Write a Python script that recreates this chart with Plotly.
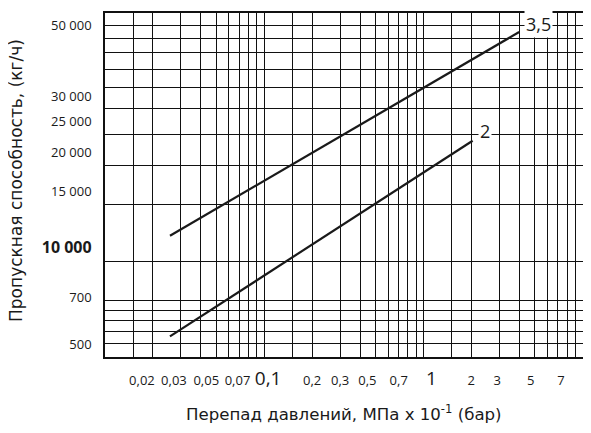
import math
import plotly.graph_objects as go

# ---- data ----
dp_35 = [0.0256, 4.0]          # pressure drop, MPa x 10^-1 (bar)
flow_35 = [12000, 52300]       # capacity, kg/h
dp_2 = [0.0256, 2.04]
flow_2 = [5800, 23850]
line_names = ["3,5", "2"]

x_tick_vals = [0.02, 0.03, 0.05, 0.07, 0.1, 0.2, 0.3, 0.5, 0.7, 1, 2, 3, 5, 7]
x_tick_text = ["0,02", "0,03", "0,05", "0,07", "0,1", "0,2", "0,3", "0,5",
               "0,7", "1", "2", "3", "5", "7"]
x_grid_mult = [1, 1.5, 2, 3, 4, 5, 6, 7, 8, 9]
x_grid_decades = [0.01, 0.1, 1]

y_tick_vals = [5000, 7000, 10000, 15000, 20000, 25000, 30000, 50000]
y_tick_text = ["500", "700", "10 000", "15 000", "20 000", "25 000", "30 000", "50 000"]
y_grid_extra = [5500, 6000, 6500, 7500, 35000, 40000, 45000, 55000]

# ---- styling / layout ----
FONT = "Open Sans"
TITLE_FONT = "DejaVu Sans"
BIG_X = {"0,1", "1"}
W, H = 591, 433
MARGIN = dict(l=97, r=16, t=5, b=84)
X_RANGE = [-2, 1.003]
# pixel nudges of the x tick labels as printed in the reference (negative = left)
x_label_nudge_px = [-11, -7, -10, -2, 4, 0, 0, -8, 0, 8, 0, -2, -4, 3]

decade_px = (W - MARGIN["l"] - MARGIN["r"]) / (X_RANGE[1] - X_RANGE[0])
x_label_pos = [v * 10 ** (n / decade_px) for v, n in zip(x_tick_vals, x_label_nudge_px)]
x_text = [f"<span style='font-size:19px'>{t}</span>" if t in BIG_X else t
          for t in x_tick_text]
y_text = [f"<span style='font-size:16px'><b>{t}</b></span>" if t == "10 000" else t
          for t in y_tick_text]
x_grid = [d * m for d in x_grid_decades for m in x_grid_mult] + [10]

fig = go.Figure()
# both x axes share the same log scale and range
for xs, ys, xa in [(dp_35, flow_35, "x"), (dp_2, flow_2, "x2")]:
    fig.add_trace(go.Scatter(x=xs, y=ys, mode="lines", xaxis=xa, yaxis="y",
                             line=dict(color="#1a1a1a", width=2.2),
                             showlegend=False, hoverinfo="skip"))

for name, xs, ys, ysh in [(line_names[0], dp_35, flow_35, 8), (line_names[1], dp_2, flow_2, 10)]:
    fig.add_annotation(x=math.log10(xs[-1]), y=math.log10(ys[-1]), xref="x", yref="y",
                       text=name, showarrow=False, xanchor="left", yanchor="middle",
                       xshift=5, yshift=ysh, bgcolor="white", borderpad=1,
                       font=dict(family=FONT, size=18, color="#1a1a1a"))

GRID = "#111111"
fig.update_layout(
    xaxis=dict(type="log", range=X_RANGE, automargin=False,
               tickmode="array", tickvals=x_tick_vals, showticklabels=False,
               ticks="",
               showgrid=True, gridcolor=GRID, gridwidth=1.3,
               minor=dict(tickmode="array", tickvals=x_grid, showgrid=True,
                          gridcolor=GRID, gridwidth=1.3, ticks=""),
               showline=True, linecolor=GRID, linewidth=1.5, mirror=True,
               zeroline=False),
    # label axis: same scale, tick labels placed as printed in the reference
    xaxis2=dict(type="log", range=X_RANGE, overlaying="x", anchor="y", side="bottom",
                automargin=False, tickmode="array", tickvals=x_label_pos, ticktext=x_text,
                tickfont=dict(family=FONT, size=13, color="#1a1a1a"),
                tickangle=0, ticks="", ticklabelstandoff=14,
                showgrid=False, showline=False, zeroline=False),
    yaxis=dict(type="log", range=[3.69897, 4.77815], automargin=False,
               tickmode="array", tickvals=y_tick_vals, ticktext=y_text,
               tickfont=dict(family=FONT, size=13, color="#1a1a1a"),
               ticks="", ticklabelstandoff=9, ticklabelshift=-13,
               showgrid=True, gridcolor=GRID, gridwidth=1.3,
               minor=dict(tickmode="array", tickvals=y_grid_extra, showgrid=True,
                          gridcolor=GRID, gridwidth=1.3, ticks=""),
               showline=True, linecolor=GRID, linewidth=1.5, mirror=True,
               zeroline=False),
)

fig.add_annotation(text="Пропускная способность, (кг/ч)", xref="paper", yref="paper",
                   x=-0.186, y=0.512, textangle=-90, showarrow=False,
                   xanchor="center", yanchor="middle",
                   font=dict(family=TITLE_FONT, size=17, color="#1a1a1a"))
fig.add_annotation(text="Перепад давлений, МПа х 10<sup>-1</sup> (бар)", xref="paper", yref="paper",
                   x=0.5, y=-0.164, showarrow=False, xanchor="center", yanchor="middle",
                   font=dict(family=TITLE_FONT, size=16.6, color="#1a1a1a"))

# the page body adds an 8px offset; margins compensate so the plot area lands as in the reference
fig.update_layout(width=W, height=H,
                  margin=dict(**MARGIN, autoexpand=False),
                  paper_bgcolor="white", plot_bgcolor="white",
                  showlegend=False)
fig.write_html("out.html")
